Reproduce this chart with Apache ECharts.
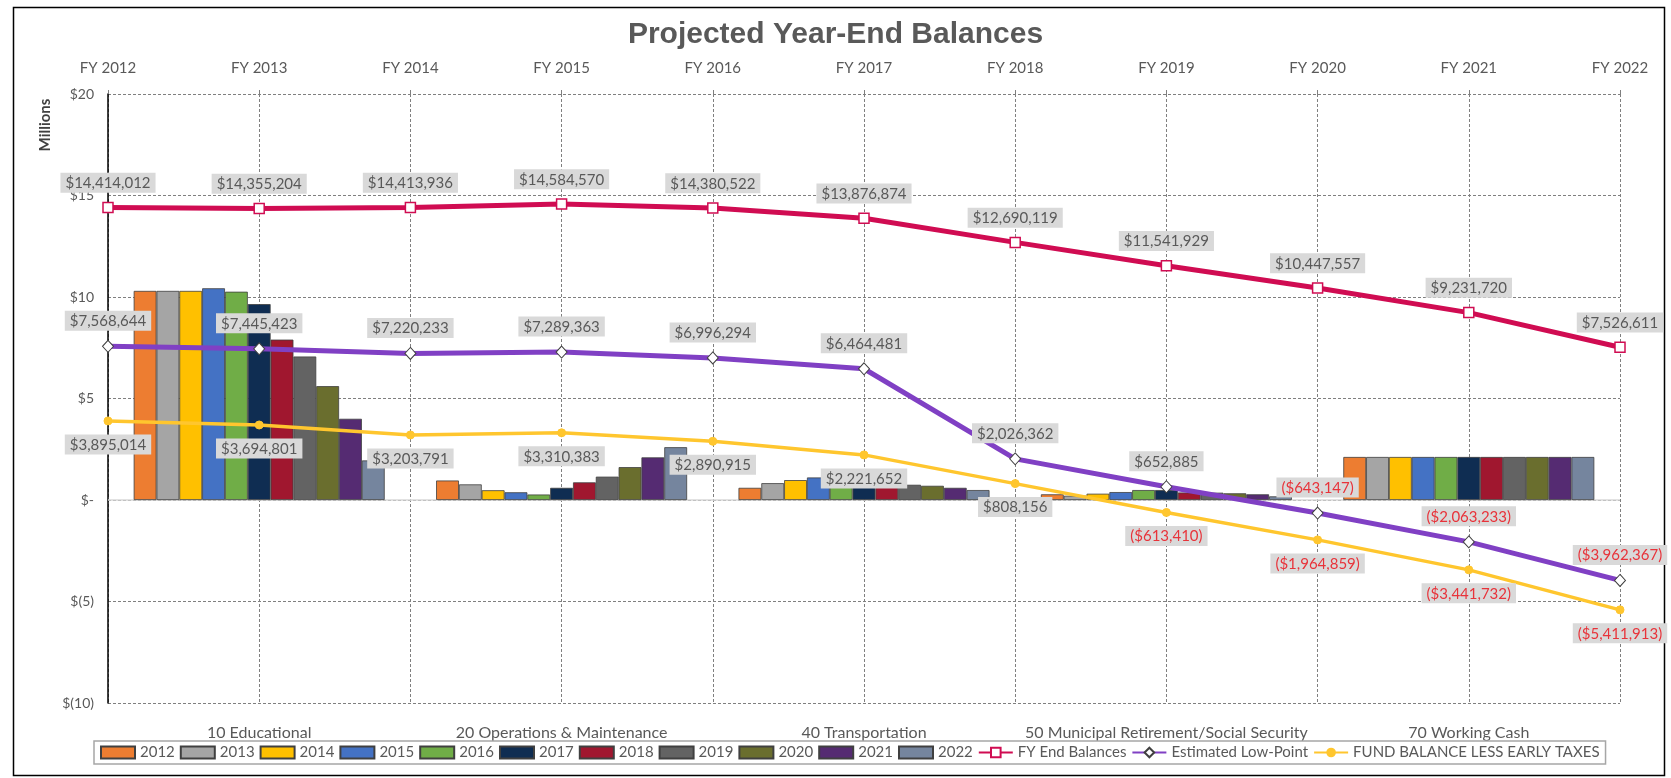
<!DOCTYPE html>
<html>
<head>
<meta charset="utf-8">
<script src="https://cdn.jsdelivr.net/npm/echarts@6/dist/echarts.min.js"></script>
<style>
html,body{margin:0;padding:0;background:#fff;}
#chart{width:1671px;height:778px;}
</style>
</head>
<body>
<div id="chart"></div>
<script>
// ---- Data ----
const fyLabels = ['FY 2012','FY 2013','FY 2014','FY 2015','FY 2016','FY 2017','FY 2018','FY 2019','FY 2020','FY 2021','FY 2022'];
const funds = ['10 Educational','20 Operations & Maintenance','40 Transportation','50 Municipal Retirement/Social Security','70 Working Cash'];
const years = ['2012','2013','2014','2015','2016','2017','2018','2019','2020','2021','2022'];
const yTickLabels = {'-10':'$(10)','-5':'$(5)','0':'$-','5':'$5','10':'$10','15':'$15','20':'$20'};

// bar values in millions, one array per year, ordered as funds
const bars2012 = [10.30, 0.96, 0.60, 0.28, 2.12];
const bars2013 = [10.30, 0.77, 0.83, 0.21, 2.12];
const bars2014 = [10.30, 0.48, 0.98, 0.31, 2.12];
const bars2015 = [10.43, 0.38, 1.11, 0.39, 2.12];
const bars2016 = [10.26, 0.27, 0.85, 0.49, 2.12];
const bars2017 = [9.65, 0.60, 0.80, 0.49, 2.12];
const bars2018 = [7.90, 0.87, 0.73, 0.37, 2.12];
const bars2019 = [7.07, 1.15, 0.75, 0.36, 2.12];
const bars2020 = [5.61, 1.62, 0.70, 0.33, 2.12];
const bars2021 = [4.00, 2.10, 0.60, 0.28, 2.12];
const bars2022 = [1.95, 2.60, 0.49, 0.18, 2.12];
const barSets = [bars2012,bars2013,bars2014,bars2015,bars2016,bars2017,bars2018,bars2019,bars2020,bars2021,bars2022];

// line values in dollars
const fyEndBalances = [14414012,14355204,14413936,14584570,14380522,13876874,12690119,11541929,10447557,9231720,7526611];
const estimatedLowPoint = [7568644,7445423,7220233,7289363,6996294,6464481,2026362,652885,-643147,-2063233,-3962367];
const fundBalanceLessEarlyTaxes = [3895014,3694801,3203791,3310383,2890915,2221652,808156,-613410,-1964859,-3441732,-5411913];

// ---- Styles ----
const barColors = ['#ED7D31','#A5A5A5','#FFC000','#4472C4','#70AD47','#0F2D52','#A0172F','#636363','#6A6E2E','#552B72','#75859E'];
const FONT = 'Lato';
const TXT = '#595959';

function fmt(v){
  const s = Math.abs(v).toLocaleString('en-US');
  return v < 0 ? '($' + s + ')' : '$' + s;
}
function lineData(arr){
  return arr.map(v => ({
    value: v / 1e6,
    label: { color: v < 0 ? '#E8333A' : TXT }
  }));
}
const lineSources = { 11: fyEndBalances, 12: estimatedLowPoint, 13: fundBalanceLessEarlyTaxes };
const labelBase = (pos) => ({
  show: true,
  position: pos,
  distance: 9,
  formatter: p => fmt(lineSources[p.seriesIndex][p.dataIndex]),
  backgroundColor: '#D9D9D9',
  padding: [3, 5, 2, 5],
  fontFamily: FONT,
  fontSize: 15
});

const series = [];
barSets.forEach((d, i) => {
  const s = {
    name: years[i],
    type: 'bar',
    xAxisIndex: 0,
    yAxisIndex: 0,
    data: d,
    barGap: '0%',
    barCategoryGap: '17%',
    itemStyle: { color: barColors[i], borderColor: '#404040', borderWidth: 0.8 },
    z: 2
  };
  if (i === 0) {
    s.markLine = {
      silent: true, symbol: 'none', label: { show: false },
      lineStyle: { color: '#D9D9D9', type: 'solid', width: 1.5 },
      data: [{ yAxis: 0 }], z: 1
    };
  }
  series.push(s);
});

series.push({
  name: 'FY End Balances', type: 'line', xAxisIndex: 1, yAxisIndex: 0,
  data: lineData(fyEndBalances),
  symbol: 'rect', symbolSize: 10,
  lineStyle: { color: '#D00C52', width: 5 },
  itemStyle: { color: '#FFFFFF', borderColor: '#D00C52', borderWidth: 1.5 },
  label: labelBase('top'),
  z: 5
});
series.push({
  name: 'Estimated Low-Point', type: 'line', xAxisIndex: 1, yAxisIndex: 0,
  data: lineData(estimatedLowPoint),
  symbol: 'diamond', symbolSize: [11, 12],
  lineStyle: { color: '#8040C4', width: 5 },
  itemStyle: { color: '#FFFFFF', borderColor: '#404040', borderWidth: 1 },
  label: labelBase('top'),
  z: 5
});
series.push({
  name: 'FUND BALANCE LESS EARLY TAXES', type: 'line', xAxisIndex: 1, yAxisIndex: 0,
  data: lineData(fundBalanceLessEarlyTaxes),
  symbol: 'circle', symbolSize: 8,
  lineStyle: { color: '#FFC62E', width: 3.5 },
  itemStyle: { color: '#FFC62E', borderColor: '#FFC62E' },
  label: labelBase('bottom'),
  z: 5
});

const option = {
  animation: false,
  backgroundColor: '#FFFFFF',
  title: {
    text: 'Projected Year-End Balances',
    left: 'center', top: 15,
    textStyle: { fontFamily: 'Liberation Sans', fontWeight: 'bold', fontSize: 30, color: '#595959' }
  },
  legend: {
    data: years.map(y => ({ name: y, icon: 'rect' })).concat(['FY End Balances','Estimated Low-Point','FUND BALANCE LESS EARLY TAXES']),
    left: 94, top: 741,
    itemWidth: 34, itemHeight: 12, itemGap: 5,
    padding: [4, 6],
    borderColor: '#A6A6A6', borderWidth: 1.5,
    textStyle: { fontFamily: FONT, fontSize: 15, color: TXT }
  },
  grid: { left: 108, right: 51, top: 94, bottom: 75, containLabel: false },
  xAxis: [
    {
      type: 'category', data: funds, position: 'bottom',
      axisLine: { show: false, onZero: false },
      axisTick: { show: false },
      axisLabel: { interval: 0, fontFamily: FONT, fontSize: 16, color: TXT, margin: 22 },
      splitLine: { show: false }
    },
    {
      type: 'category', data: fyLabels, position: 'top', boundaryGap: false,
      axisLine: { show: false, onZero: false },
      axisTick: { show: true, length: 4, lineStyle: { color: '#7F7F7F' } },
      axisLabel: { interval: 0, fontFamily: FONT, fontSize: 15, color: TXT, margin: 18 },
      splitLine: { show: true, lineStyle: { type: [3, 2], color: '#7F7F7F', width: 1 } }
    }
  ],
  yAxis: {
    type: 'value', min: -10, max: 20, interval: 5,
    axisLine: { show: true, onZero: false, lineStyle: { color: '#000000', width: 1.5 } },
    axisTick: { show: false },
    axisLabel: { fontFamily: FONT, fontSize: 14, color: TXT, margin: 14, formatter: v => yTickLabels[String(v)] },
    splitLine: { show: true, lineStyle: { type: [3, 2], color: '#7F7F7F', width: 1 } }
  },
  graphic: [
    { type: 'rect', left: 11, top: 5, shape: { width: 1651, height: 768 }, style: { fill: 'none', stroke: '#000', lineWidth: 1.5 }, silent: true, z: -10 },
    { type: 'text', x: 45, y: 125, rotation: Math.PI / 2, style: { text: 'Millions', font: 'bold 15px Lato', fill: '#404040', textAlign: 'center', textVerticalAlign: 'middle' } }
  ],
  series: series
};

const chart = echarts.init(document.getElementById('chart'), null, { renderer: 'canvas' });
chart.setOption(option);
</script>
</body>
</html>
